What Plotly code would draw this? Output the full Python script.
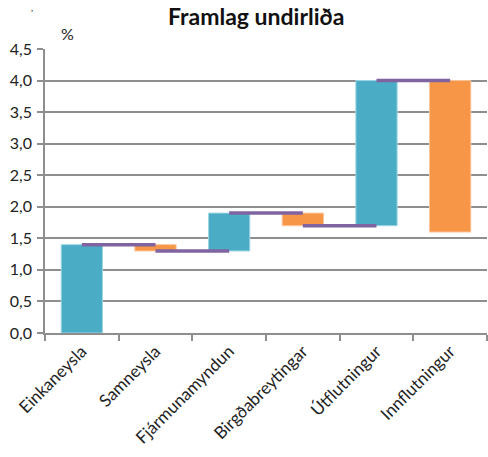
import numpy as np
import plotly.graph_objects as go

# contributions of each component (percentage points)
categories = ["Einkaneysla", "Samneysla", "Fjármunamyndun", "Birgðabreytingar", "Útflutningur", "Innflutningur"]
contributions = [1.4, -0.1, 0.6, -0.2, 2.3, -2.4]
y_ticks = [0.0, 0.5, 1.0, 1.5, 2.0, 2.5, 3.0, 3.5, 4.0, 4.5]

BLUE = "#4BACC6"
ORANGE = "#F79646"
PURPLE = "#8064A2"
GRID = "#8e8e8e"
FONT = "Lato, 'Open Sans', sans-serif"

contrib = np.array(contributions)
level_after = np.cumsum(contrib)
level_before = level_after - contrib

colors = [BLUE if v >= 0 else ORANGE for v in contrib]
edges = ["#9fd6e4" if v >= 0 else "#fbc59b" for v in contrib]

fig = go.Figure()

fig.add_trace(go.Bar(
    x=categories,
    y=contrib,
    base=level_before,
    marker=dict(color=colors, line=dict(color=edges, width=1)),
    width=0.56,
    showlegend=False,
    hoverinfo="skip"
))

# step connectors from each bar centre to the next at the running total
for i in range(len(categories) - 1):
    fig.add_trace(go.Scatter(
        x=[categories[i], categories[i + 1]],
        y=[level_after[i], level_after[i]],
        mode="lines",
        line=dict(color=PURPLE, width=3.5),
        showlegend=False,
        hoverinfo="skip"
    ))

fig.update_layout(
    width=488,
    height=457,
    margin=dict(l=45, r=1, t=49, b=124),
    plot_bgcolor="white",
    paper_bgcolor="white",
    separators=", ",
    font=dict(family=FONT, size=16, color="#222222"),
    xaxis=dict(
        type="category",
        range=[-0.5, len(categories) - 0.5],
        tickson="boundaries",
        ticks="outside",
        ticklen=6,
        tickcolor=GRID,
        tickwidth=1.5,
        showline=True,
        linecolor=GRID,
        linewidth=1.5,
        showgrid=False,
        tickangle=-45,
        automargin=False,
        tickfont=dict(family=FONT, size=17, color="#222222")
    ),
    yaxis=dict(
        range=[0, 4.5],
        tickvals=y_ticks,
        tickformat=".1f",
        ticks="outside",
        ticklen=6,
        tickcolor=GRID,
        tickwidth=1.5,
        ticklabelstandoff=2,
        showline=True,
        linecolor=GRID,
        linewidth=1.5,
        showgrid=True,
        gridcolor=GRID,
        gridwidth=1.5,
        zeroline=False,
        automargin=False,
        tickfont=dict(family=FONT, size=16, color="#222222")
    ),
    annotations=[
        dict(text="<b>Framlag undirliða</b>", xref="paper", yref="paper",
             x=(256 - 45) / 442, y=(333 - 0) / 284,
             xanchor="center", yanchor="top", showarrow=False,
             font=dict(family=FONT, size=23, color="#111111")),
        dict(text="%", xref="paper", yref="paper", x=(67 - 45) / 442, y=(333 - 33) / 284,
             xanchor="center", yanchor="middle", showarrow=False,
             font=dict(family=FONT, size=16, color="#222222")),
        dict(text=",", xref="paper", yref="paper", x=(32 - 45) / 442, y=(333 - 0) / 284,
             xanchor="center", yanchor="top", showarrow=False,
             font=dict(family=FONT, size=9, color="#222222")),
    ]
)

# drop the default page margin so the figure sits at the window's corner
fig.write_html("out.html", config={"displayModeBar": False},
               post_script="document.body.style.margin='0';")
